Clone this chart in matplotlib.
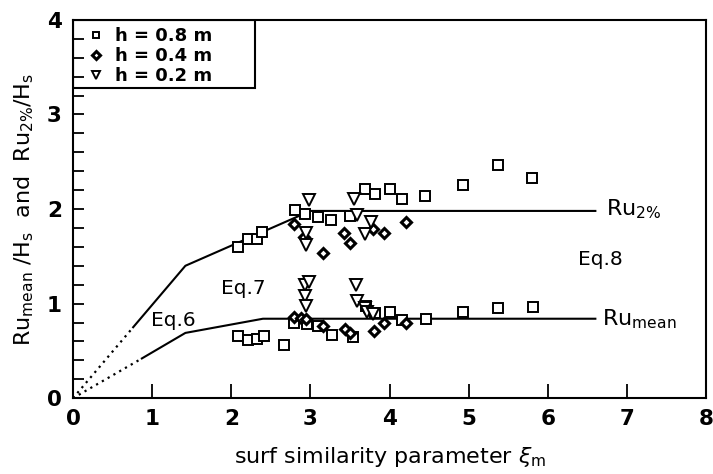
import matplotlib.pyplot as plt
from matplotlib.ticker import MultipleLocator
from matplotlib.patches import Rectangle

# h = 0.8 m (squares)
sq_x = [2.09, 2.21, 2.32, 2.39, 2.81, 2.93, 3.10, 3.26, 3.50, 3.69, 3.81, 4.00, 4.16, 4.45, 4.93, 5.37, 5.80,
        2.09, 2.21, 2.32, 2.41, 2.67, 2.79, 2.96, 3.10, 3.27, 3.54, 3.70, 3.82, 4.01, 4.16, 4.46, 4.93, 5.37, 5.81]
sq_y = [1.60, 1.68, 1.68, 1.76, 1.99, 1.95, 1.92, 1.88, 1.93, 2.21, 2.16, 2.21, 2.11, 2.14, 2.25, 2.47, 2.33,
        0.66, 0.61, 0.63, 0.66, 0.56, 0.79, 0.78, 0.76, 0.67, 0.65, 0.97, 0.90, 0.91, 0.83, 0.84, 0.91, 0.95, 0.96]

# h = 0.4 m (diamonds)
di_x = [2.79, 2.92, 3.16, 3.43, 3.50, 3.79, 3.93, 4.21,
        2.79, 2.88, 2.95, 3.16, 3.44, 3.50, 3.80, 3.93, 4.21]
di_y = [1.84, 1.70, 1.54, 1.75, 1.64, 1.79, 1.75, 1.86,
        0.86, 0.85, 0.84, 0.76, 0.73, 0.69, 0.71, 0.79, 0.79]

# h = 0.2 m (triangles)
tr_x = [2.98, 2.95, 2.95, 3.55, 3.59, 3.77, 3.69,
        2.93, 2.98, 2.93, 2.95, 3.57, 3.59, 3.69, 3.72, 3.79]
tr_y = [2.10, 1.75, 1.62, 2.11, 1.94, 1.86, 1.74,
        1.20, 1.23, 1.08, 0.97, 1.20, 1.03, 0.95, 0.91, 0.89]

# fitted curves (Eq.6 / Eq.7 / Eq.8)
ru2_dot_x = [0.0, 0.76]
ru2_dot_y = [0.0, 0.75]
ru2_x = [0.76, 1.42, 3.0, 6.6]
ru2_y = [0.75, 1.40, 1.98, 1.98]
rum_dot_x = [0.0, 0.87]
rum_dot_y = [0.0, 0.42]
rum_x = [0.87, 1.42, 2.4, 6.6]
rum_y = [0.42, 0.69, 0.84, 0.84]

fig = plt.figure(figsize=(7.13, 4.74), dpi=100)
ax = fig.add_axes([0.1024, 0.160, 0.888, 0.798])

ax.plot(ru2_dot_x, ru2_dot_y, color='black', lw=1.6, ls=(0, (1, 2)))
ax.plot(rum_dot_x, rum_dot_y, color='black', lw=1.6, ls=(0, (1, 2)))
ax.plot(ru2_x, ru2_y, color='black', lw=1.5)
ax.plot(rum_x, rum_y, color='black', lw=1.5)

ax.plot(sq_x, sq_y, ls='none', marker='s', ms=7, mfc='white', mec='black', mew=1.4, label='h = 0.8 m')
ax.plot(di_x, di_y, ls='none', marker='D', ms=5.5, mfc='white', mec='black', mew=2.2, label='h = 0.4 m')
ax.plot(tr_x, tr_y, ls='none', marker='v', ms=8, mfc='white', mec='black', mew=1.4, label='h = 0.2 m')

ax.text(6.73, 2.0, r'Ru$_{2\%}$', fontsize=16, va='center')
ax.text(6.69, 0.84, r'Ru$_{\mathrm{mean}}$', fontsize=16, va='center')
ax.text(6.38, 1.47, 'Eq.8', fontsize=14.5, va='center')
ax.text(1.87, 1.16, 'Eq.7', fontsize=14.5, va='center')
ax.text(0.99, 0.82, 'Eq.6', fontsize=14.5, va='center')

ax.set_xlim(0, 8)
ax.set_ylim(0, 4)
ax.xaxis.set_major_locator(MultipleLocator(1))
ax.yaxis.set_major_locator(MultipleLocator(1))
ax.yaxis.set_minor_locator(MultipleLocator(0.2))
ax.tick_params(axis='x', which='major', direction='in', length=10, width=1.3, labelsize=15.5, pad=8)
ax.tick_params(axis='y', which='both', direction='in', length=8, width=1.3, labelsize=15.5, pad=8)
for lab in ax.get_xticklabels() + ax.get_yticklabels():
    lab.set_fontweight('bold')
for s in ax.spines.values():
    s.set_linewidth(1.5)

ax.set_xlabel(r'surf similarity parameter $\xi_{\mathrm{m}}$', fontsize=16, labelpad=11)
ax.set_ylabel(r'Ru$_{\mathrm{mean}}$ /H$_{\mathrm{s}}$  and  Ru$_{2\%}$/H$_{\mathrm{s}}$', fontsize=16, labelpad=8)

leg = ax.legend(loc='upper left', bbox_to_anchor=(0.01, 0.995), borderaxespad=0, frameon=False,
                handletextpad=0.5, handlelength=1.2, labelspacing=0.1, markerscale=0.7,
                prop={'size': 13, 'weight': 'bold'}, borderpad=0.3)
ax.add_patch(Rectangle((0, 0.82), 0.2875, 0.18, transform=ax.transAxes, fill=False,
                       edgecolor='black', lw=1.5, zorder=5))

fig.savefig('out.png', dpi=100)
